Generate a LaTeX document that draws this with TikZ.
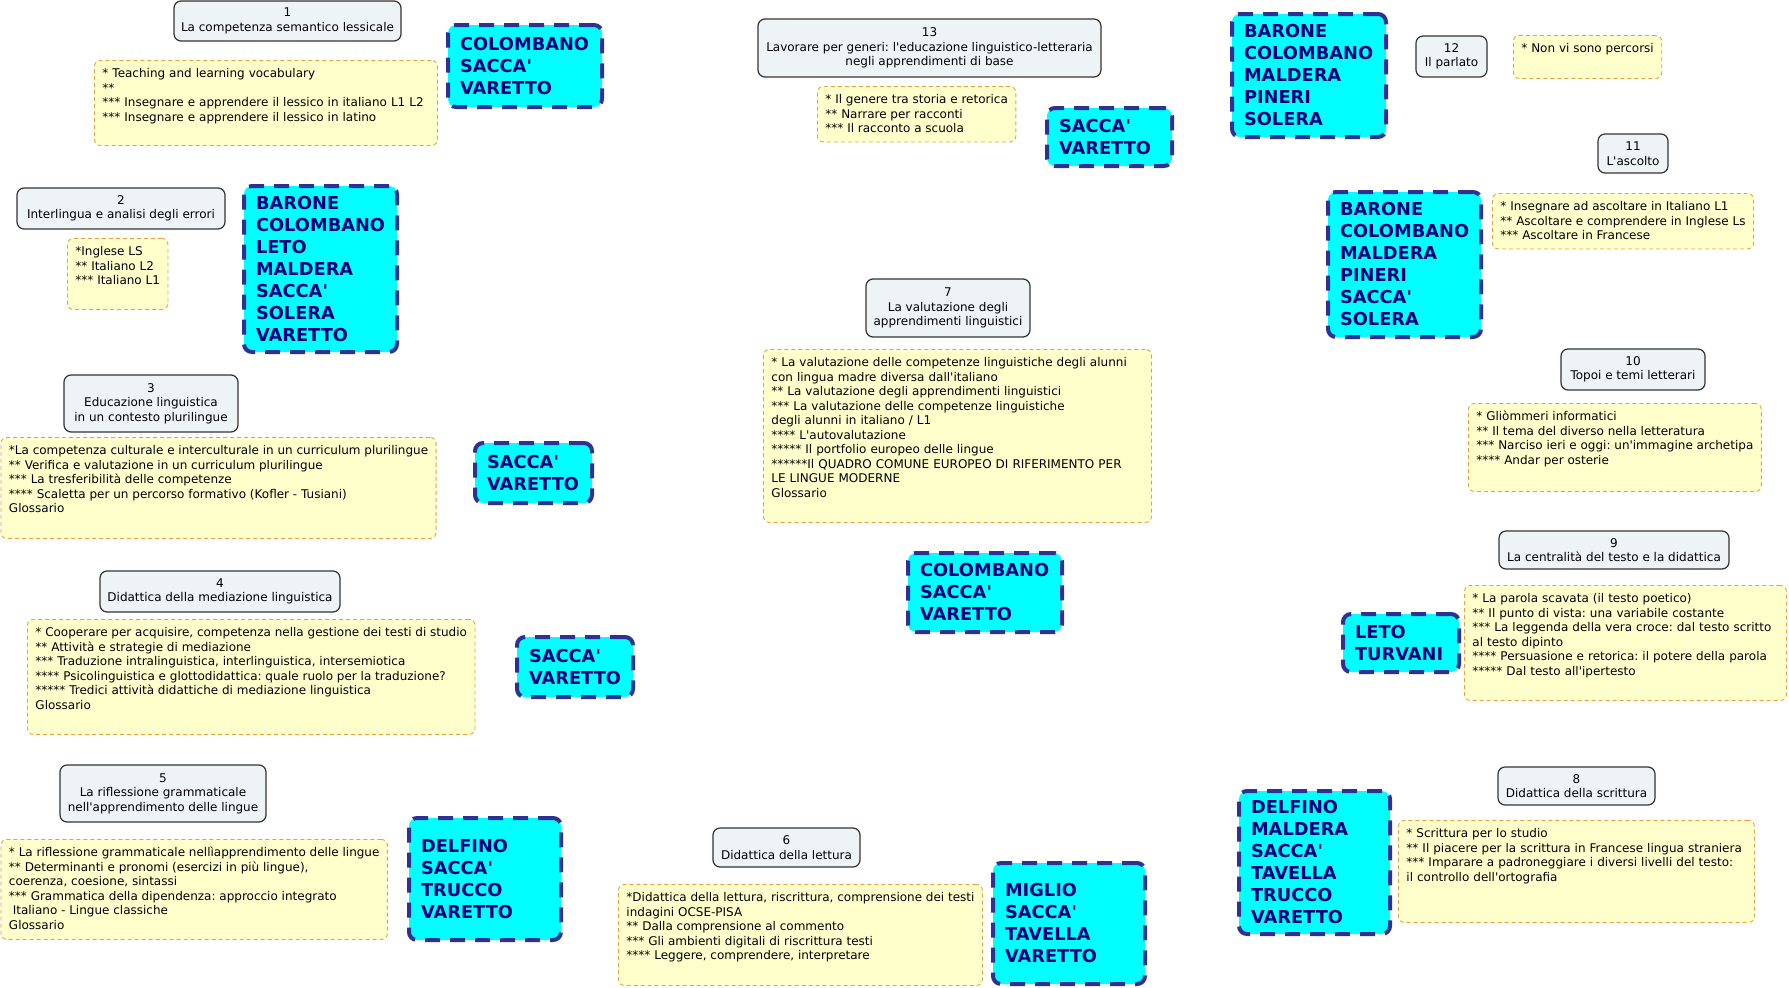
\documentclass[tikz,border=0pt]{standalone}
\usepackage{fontspec}
\setmainfont{DejaVu Sans}[Ligatures=TeXOff]
\frenchspacing
\definecolor{topicFill}{HTML}{EEF3F6}
\definecolor{topicStroke}{HTML}{333333}
\definecolor{noteFill}{HTML}{FFFFCC}
\definecolor{noteStroke}{HTML}{E5A23C}
\definecolor{teamFill}{HTML}{00FFFF}
\definecolor{teamStroke}{HTML}{2E3192}
\definecolor{teamText}{HTML}{000080}

\begin{document}
\begin{tikzpicture}[
  x=1pt, y=-1pt,
  font=\fontsize{12}{14.5}\selectfont,
  topic/.style={draw=topicStroke, fill=topicFill, line width=1.2pt, rounded corners=7pt, align=center, inner sep=2pt},
  note/.style={draw=noteStroke, fill=noteFill, line width=0.9pt, dash pattern=on 4pt off 3pt, rounded corners=6pt, align=left, anchor=north west, inner xsep=8pt, inner ysep=8.5pt},
  team/.style={draw=teamStroke, fill=teamFill, line width=4pt, dash pattern=on 15pt off 10pt, rounded corners=8pt, align=left, inner xsep=12pt, inner ysep=0pt, text=teamText, font=\fontsize{17.8}{22}\selectfont\bfseries}
]
\path[use as bounding box, fill=white] (0,0) rectangle (1789,988);

% ============================================================
% TOPICS (numbered grey boxes)
% ============================================================
\node[topic, minimum width=227pt, minimum height=40pt] (t1) at (287.5,21) {1\\La competenza semantico lessicale};
\node[topic, minimum width=208pt, minimum height=41pt] (t2) at (121,208.5) {2\\Interlingua e analisi degli errori};
\node[topic, minimum width=174pt, minimum height=57pt] (t3) at (151,403.5) {3\\Educazione linguistica\\in un contesto plurilingue};
\node[topic, minimum width=240pt, minimum height=41pt] (t4) at (220,591.5) {4\\Didattica della mediazione linguistica};
\node[topic, minimum width=206pt, minimum height=57pt] (t5) at (163,793.5) {5\\La riflessione grammaticale\\nell'apprendimento delle lingue};
\node[topic, minimum width=147pt, minimum height=39pt] (t6) at (786.5,847.5) {6\\Didattica della lettura};
\node[topic, minimum width=164pt, minimum height=58pt] (t7) at (948,308) {7\\La valutazione degli\\apprendimenti linguistici};
\node[topic, minimum width=157pt, minimum height=38pt] (t8) at (1576.5,786) {8\\Didattica della scrittura};
\node[topic, minimum width=230pt, minimum height=38pt] (t9) at (1614,550) {9\\La centralità del testo e la didattica};
\node[topic, minimum width=144pt, minimum height=41pt] (t10) at (1633,369.5) {10\\Topoi e temi letterari};
\node[topic, minimum width=70pt, minimum height=39pt] (t11) at (1633,153.5) {11\\L'ascolto};
\node[topic, minimum width=71pt, minimum height=41pt] (t12) at (1451.5,56.5) {12\\Il parlato};
\node[topic, minimum width=343pt, minimum height=58pt] (t13) at (929.5,48) {13\\Lavorare per generi: l'educazione linguistico-letteraria\\negli apprendimenti di base};

% ============================================================
% NOTES (yellow dashed boxes, list of paths)
% ============================================================
\node[note, text width=327pt, text height=9pt, text depth=59pt] (n1) at (94,60) {* Teaching and learning vocabulary\\{}**\\{}*** Insegnare e apprendere il lessico in italiano L1 L2\\{}*** Insegnare e apprendere il lessico in latino};
\node[note, text height=38pt, text depth=16pt] (n2) at (67,238) {*Inglese LS\\{}** Italiano L2\\{}*** Italiano L1};
\node[note, text height=67pt, text depth=17pt] (n3) at (0.5,437) {*La competenza culturale e interculturale in un curriculum plurilingue\\{}** Verifica e valutazione in un curriculum plurilingue\\{}*** La tresferibilità delle competenze\\{}**** Scaletta per un percorso formativo (Kofler - Tusiani)\\Glossario};
\node[note, text height=81.5pt, text depth=16.5pt] (n4) at (27,619) {* Cooperare per acquisire, competenza nella gestione dei testi di studio\\{}** Attività e strategie di mediazione\\{}*** Traduzione intralinguistica, interlinguistica, intersemiotica\\{}**** Psicolinguistica e glottodidattica: quale ruolo per la traduzione?\\{}***** Tredici attività didattiche di mediazione linguistica\\Glossario};
\node[note, text height=81.5pt, text depth=1.5pt] (n5) at (0.5,839) {* La riflessione grammaticale nellìapprendimento delle lingue\\{}** Determinanti e pronomi (esercizi in più lingue),\\coerenza, coesione, sintassi\\{}*** Grammatica della dipendenza: approccio integrato\\{}\ Italiano - Lingue classiche\\Glossario};
\node[note, text height=67pt, text depth=17pt] (n6) at (618,884) {*Didattica della lettura, riscrittura, comprensione dei testi\\indagini OCSE-PISA\\{}** Dalla comprensione al commento\\{}*** Gli ambienti digitali di riscrittura testi\\{}**** Leggere, comprendere, interpretare};
\node[note, text width=372pt, text height=9pt, text depth=147pt] (n7) at (763,349) {* La valutazione delle competenze linguistiche degli alunni\\con lingua madre diversa dall'italiano\\{}** La valutazione degli apprendimenti linguistici\\{}*** La valutazione delle competenze linguistiche\\degli alunni in italiano / L1\\{}**** L'autovalutazione\\{}***** Il portfolio europeo delle lingue\\{}******Il QUADRO COMUNE EUROPEO DI RIFERIMENTO PER\\LE LINGUE MODERNE\\Glossario};
\node[note, text width=340pt, text height=9pt, text depth=76pt] (n8) at (1398,820) {* Scrittura per lo studio\\{}** Il piacere per la scrittura in Francese lingua straniera\\{}*** Imparare a padroneggiare i diversi livelli del testo:\\il controllo dell'ortografia};
\node[note, text width=306pt, text height=9pt, text depth=89pt] (n9) at (1464,585) {* La parola scavata (il testo poetico)\\{}** Il punto di vista: una variabile costante\\{}*** La leggenda della vera croce: dal testo scritto\\al testo dipinto\\{}**** Persuasione e retorica: il potere della parola\\{}***** Dal testo all'ipertesto};
\node[note, text height=52.5pt, text depth=18.5pt] (n10) at (1468,403) {* Gliòmmeri informatici\\{}** Il tema del diverso nella letteratura\\{}*** Narciso ieri e oggi: un'immagine archetipa\\{}**** Andar per osterie};
\node[note, text height=38pt, text depth=0.5pt] (n11) at (1492,193) {* Insegnare ad ascoltare in Italiano L1\\{}** Ascoltare e comprendere in Inglese Ls\\{}*** Ascoltare in Francese};
\node[note, text height=9pt, text depth=17pt] (n12) at (1513,35) {* Non vi sono percorsi};
\node[note, text height=38pt, text depth=0.5pt] (n13) at (817,86) {* Il genere tra storia e retorica\\{}** Narrare per racconti\\{}*** Il racconto a scuola};

% ============================================================
% TEACHERS (cyan dashed boxes)
% ============================================================
\node[team, text width=130pt, minimum height=82pt] (g1) at (525,66) {COLOMBANO\\SACCA'\\VARETTO};
\node[team, text width=129pt, minimum height=166pt] (g2) at (320.5,269) {BARONE\\COLOMBANO\\LETO\\MALDERA\\SACCA'\\SOLERA\\VARETTO};
\node[team, text width=93pt, minimum height=60pt] (g3) at (533.5,473) {SACCA'\\VARETTO};
\node[team, text width=92pt, minimum height=60pt] (g4) at (575,667) {SACCA'\\VARETTO};
\node[team, text width=128pt, minimum height=122pt] (g5) at (485,879) {DELFINO\\SACCA'\\TRUCCO\\VARETTO};
\node[team, text width=128pt, minimum height=121pt] (g6) at (1069,923.5) {MIGLIO\\SACCA'\\TAVELLA\\VARETTO};
\node[team, text width=130pt, minimum height=79pt] (g7) at (985,592.5) {COLOMBANO\\SACCA'\\VARETTO};
\node[team, text width=127pt, minimum height=143pt] (g8) at (1314.5,862.5) {DELFINO\\MALDERA\\SACCA'\\TAVELLA\\TRUCCO\\VARETTO};
\node[team, text width=92pt, minimum height=58pt] (g9) at (1401,643) {LETO\\TURVANI};
\node[team, text width=129pt, minimum height=145pt] (g11) at (1404.5,264.5) {BARONE\\COLOMBANO\\MALDERA\\PINERI\\SACCA'\\SOLERA};
\node[team, text width=130pt, minimum height=123pt] (g12) at (1309,75.5) {BARONE\\COLOMBANO\\MALDERA\\PINERI\\SOLERA};
\node[team, text width=101pt, minimum height=58pt] (g13) at (1109.5,137) {SACCA'\\VARETTO};

\end{tikzpicture}
\end{document}
